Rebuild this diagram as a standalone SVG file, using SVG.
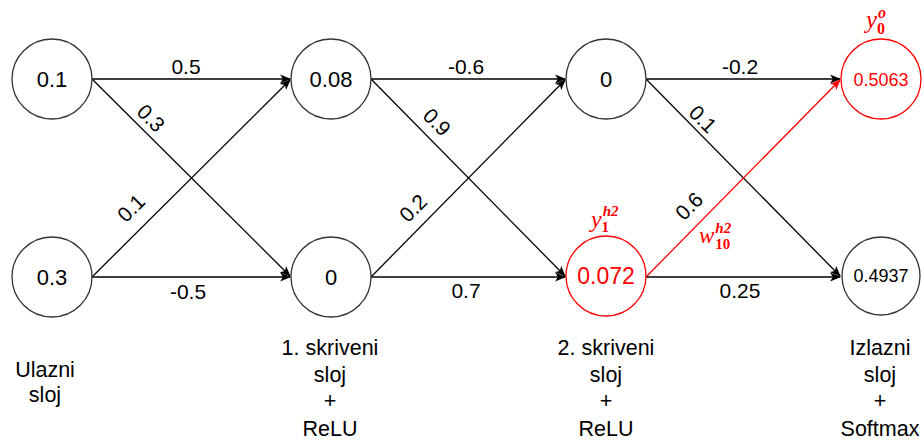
<svg xmlns="http://www.w3.org/2000/svg" width="924" height="441" viewBox="0 0 924 441">
<style>
text{font-family:"Liberation Sans",Arial,sans-serif;fill:#000}
.node{fill:#fff;stroke:#333;stroke-width:1.3}
.red .node{stroke:#ff0000}
.nt{font-size:22px;text-anchor:middle;dominant-baseline:central}
.sm{font-size:18px}
.el{font-size:21px;text-anchor:middle;dominant-baseline:central}
.e{stroke:#000;stroke-width:1.3;fill:none;marker-end:url(#ab)}
.er{stroke:#ff0000;stroke-width:1.3;fill:none;marker-end:url(#ar)}
.lab{font-size:21.5px;text-anchor:middle}
.m{font-family:"Liberation Serif","Times New Roman",serif;fill:#ff0000;font-style:italic}
</style>
<defs>
<marker id="ab" viewBox="0 0 10 10" refX="9" refY="5" markerWidth="11" markerHeight="11" markerUnits="userSpaceOnUse" orient="auto"><path d="M0,1 L10,5 L0,9 L2.5,5 Z" fill="#000"/></marker>
<marker id="ar" viewBox="0 0 10 10" refX="9" refY="5" markerWidth="11" markerHeight="11" markerUnits="userSpaceOnUse" orient="auto"><path d="M0,1 L10,5 L0,9 L2.5,5 Z" fill="#ff0000"/></marker>
</defs>
<g id="connectors">
<line class="e" x1="92" y1="79" x2="290" y2="79"/>
<line class="e" x1="92" y1="79" x2="290" y2="276"/>
<line class="e" x1="92" y1="277" x2="290" y2="80"/>
<line class="e" x1="92" y1="277" x2="290" y2="277"/>
<line class="e" x1="371" y1="79" x2="565" y2="79"/>
<line class="e" x1="371" y1="79" x2="565" y2="276"/>
<line class="e" x1="371" y1="277" x2="565" y2="80"/>
<line class="e" x1="371" y1="277" x2="565" y2="277"/>
<line class="e" x1="646" y1="79" x2="840" y2="79"/>
<line class="e" x1="646" y1="79" x2="840" y2="276"/>
<line class="er" x1="646" y1="277" x2="840" y2="80"/>
<line class="e" x1="646" y1="277" x2="840" y2="277"/>
<text class="el" x="186" y="66">0.5</text>
<text class="el" transform="translate(151,118) rotate(45)">0.3</text>
<text class="el" transform="translate(131,208) rotate(-45)">0.1</text>
<text class="el" x="188" y="291">-0.5</text>
<text class="el" x="466" y="66">-0.6</text>
<text class="el" transform="translate(437,122) rotate(45)">0.9</text>
<text class="el" transform="translate(413,208) rotate(-45)">0.2</text>
<text class="el" x="466" y="290">0.7</text>
<text class="el" x="740" y="66">-0.2</text>
<text class="el" transform="translate(703,119) rotate(45)">0.1</text>
<text class="el" transform="translate(689,206) rotate(-45)">0.6</text>
<text class="el" x="740" y="290">0.25</text>
<text class="m" x="699" y="243" font-size="23">w<tspan font-size="15" font-weight="bold" dx="1" dy="-10">h2</tspan><tspan font-size="15" font-weight="bold" font-style="normal" dx="-16" dy="16">10</tspan></text>
</g>
<g id="n_in0"><circle class="node" cx="52" cy="79" r="40"/><text class="nt" x="52" y="79">0.1</text></g>
<g id="n_in1"><circle class="node" cx="52" cy="277" r="40"/><text class="nt" x="52" y="277">0.3</text></g>
<g id="n_h10"><circle class="node" cx="331" cy="79" r="40"/><text class="nt" x="331" y="79">0.08</text></g>
<g id="n_h11"><circle class="node" cx="331" cy="277" r="40"/><text class="nt" x="331" y="277">0</text></g>
<g id="n_h20"><circle class="node" cx="606" cy="79" r="40"/><text class="nt" x="606" y="79">0</text></g>
<g id="n_h21" class="red"><circle class="node" cx="606" cy="276" r="40"/><text class="nt" x="606" y="276" style="fill:#ff0000;font-size:23px">0.072</text>
<text class="m" x="591" y="227" font-size="24">y<tspan font-size="15" font-weight="bold" dx="1" dy="-11">h2</tspan><tspan font-size="15" font-weight="bold" font-style="normal" dx="-17" dy="16">1</tspan></text></g>
<g id="n_o0" class="red"><circle class="node" cx="881" cy="79" r="40"/><text class="nt sm" x="881" y="80" style="fill:#ff0000">0.5063</text>
<text class="m" x="866" y="28" font-size="25">y<tspan font-size="16" font-weight="bold" dx="1" dy="-10">o</tspan><tspan font-size="16" font-weight="bold" font-style="normal" dx="-9" dy="16">0</tspan></text></g>
<g id="n_o1"><circle class="node" cx="881" cy="276" r="39"/><text class="nt sm" x="881" y="276">0.4937</text></g>
<g id="layer_labels">
<text class="lab" x="45" y="377">Ulazni</text><text class="lab" x="45" y="402">sloj</text>
<text class="lab" x="330" y="355">1. skriveni</text><text class="lab" x="330" y="382">sloj</text><text class="lab" x="330" y="408">+</text><text class="lab" x="330" y="436">ReLU</text>
<text class="lab" x="606" y="355">2. skriveni</text><text class="lab" x="606" y="382">sloj</text><text class="lab" x="606" y="408">+</text><text class="lab" x="606" y="436">ReLU</text>
<text class="lab" x="880" y="355">Izlazni</text><text class="lab" x="880" y="382">sloj</text><text class="lab" x="880" y="408">+</text><text class="lab" x="880" y="436">Softmax</text>
</g>
</svg>
